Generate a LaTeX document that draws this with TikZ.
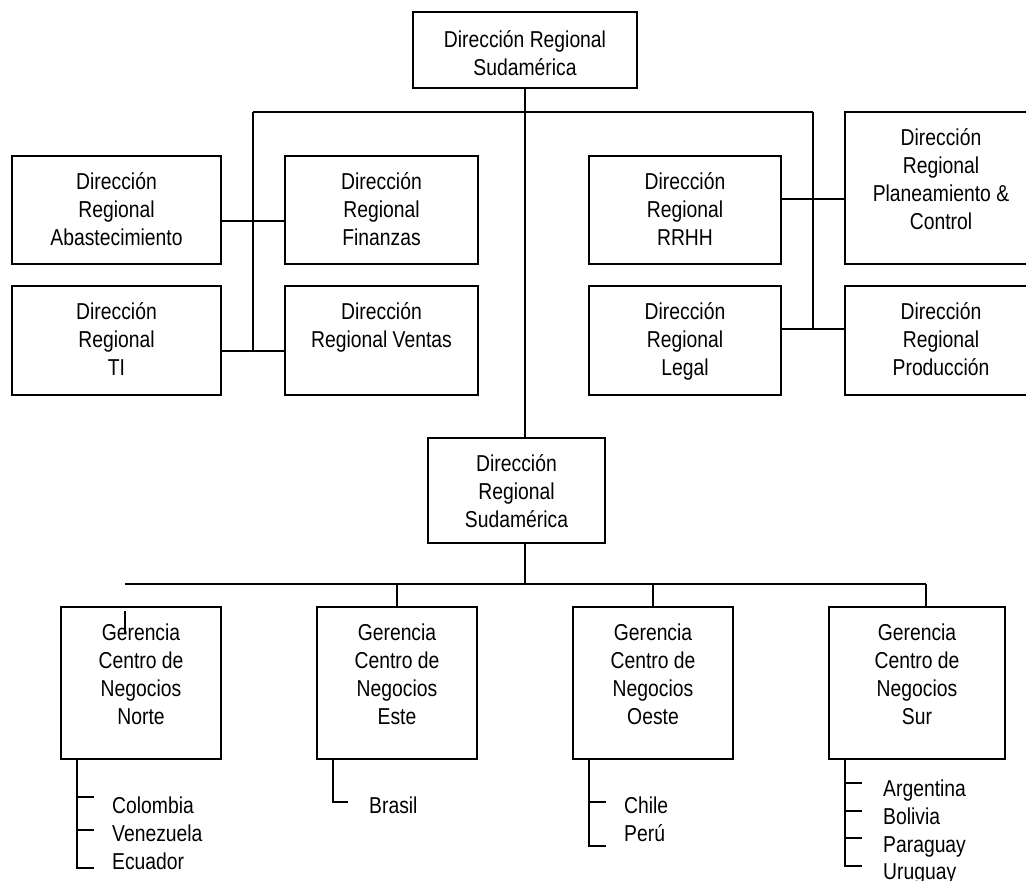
\documentclass[tikz,border=0pt]{standalone}
\usepackage{fontspec}
\setmainfont{Liberation Sans}[FakeStretch=0.84]
\newcommand{\labelfont}{\fontsize{23}{28}\selectfont}
\newcommand{\firstline}{\rule{0pt}{22pt}}
\begin{document}
\begin{tikzpicture}[x=1pt,y=-1pt,
  box/.style={draw=black, line width=1.8pt, rectangle, inner sep=0pt},
  lbl/.style={align=center, anchor=north, inner sep=0pt, font=\labelfont},
  item/.style={anchor=base west, inner sep=0pt, font=\labelfont},
  link/.style={line width=1.8pt}]
\clip (0,0) rectangle (1026,881);
\fill[white] (0,0) rectangle (1026,881);

% --- boxes
\node[box, minimum width=224pt, minimum height=76pt]  (top)    at (525,50) {};
\node[box, minimum width=209pt, minimum height=108pt] (abast)  at (116.5,210) {};
\node[box, minimum width=193pt, minimum height=108pt] (fin)    at (381.5,210) {};
\node[box, minimum width=209pt, minimum height=109pt] (ti)     at (116.5,340.5) {};
\node[box, minimum width=193pt, minimum height=109pt] (ventas) at (381.5,340.5) {};
\node[box, minimum width=192pt, minimum height=108pt] (rrhh)   at (685,210) {};
\node[box, minimum width=192pt, minimum height=109pt] (legal)  at (685,340.5) {};
\node[box, minimum width=192pt, minimum height=152pt] (plan)   at (941,188) {};
\node[box, minimum width=192pt, minimum height=109pt] (prod)   at (941,340.5) {};
\node[box, minimum width=177pt, minimum height=105pt] (mid)    at (516.5,490.5) {};
\node[box, minimum width=160pt, minimum height=152pt] (norte)  at (141,683) {};
\node[box, minimum width=160pt, minimum height=152pt] (este)   at (397,683) {};
\node[box, minimum width=160pt, minimum height=152pt] (oeste)  at (653,683) {};
\node[box, minimum width=176pt, minimum height=152pt] (sur)    at (917,683) {};

% --- box texts
\node[lbl] (topT)    at (525,25)    {\firstline Dirección Regional\\Sudamérica};
\node[lbl] (abastT)  at (116.5,167) {\firstline Dirección\\Regional\\Abastecimiento};
\node[lbl] (finT)    at (381.5,167) {\firstline Dirección\\Regional\\Finanzas};
\node[lbl] (tiT)     at (116.5,297) {\firstline Dirección\\Regional\\TI};
\node[lbl] (ventasT) at (381.5,297) {\firstline Dirección\\Regional Ventas};
\node[lbl] (rrhhT)   at (685,167)   {\firstline Dirección\\Regional\\RRHH};
\node[lbl] (legalT)  at (685,297)   {\firstline Dirección\\Regional\\Legal};
\node[lbl] (planT)   at (941,123)   {\firstline Dirección\\Regional\\Planeamiento \&\\Control};
\node[lbl] (prodT)   at (941,297)   {\firstline Dirección\\Regional\\Producción};
\node[lbl] (midT)    at (516.5,449) {\firstline Dirección\\Regional\\Sudamérica};
\node[lbl] (norteT)  at (141,618)   {\firstline Gerencia\\Centro de\\Negocios\\Norte};
\node[lbl] (esteT)   at (397,618)   {\firstline Gerencia\\Centro de\\Negocios\\Este};
\node[lbl] (oesteT)  at (653,618)   {\firstline Gerencia\\Centro de\\Negocios\\Oeste};
\node[lbl] (surT)    at (917,618)   {\firstline Gerencia\\Centro de\\Negocios\\Sur};

% --- junction points
\coordinate (busTopL) at (253,112);
\coordinate (busTopR) at (813,112);
\coordinate (jL1) at (253,221);
\coordinate (jL2) at (253,351);
\coordinate (jR1) at (813,199);
\coordinate (jR2) at (813,329);
\coordinate (busBot) at (525,584);
\coordinate (busBotL) at (125,584);
\coordinate (busBotR) at (926,584);
\coordinate (tickA) at (125,611);
\coordinate (tickB) at (125,633);
\coordinate (surDrop) at (926,607);

% --- upper connectors
\draw[link] (top.south) -- (top.south |- mid.north);
\draw[link] (busTopL) -- (busTopR);
\draw[link] (busTopL) -- (jL2);
\draw[link] (busTopR) -- (jR2);
\draw[link] (abast.east |- jL1) -- (fin.west |- jL1);
\draw[link] (ti.east |- jL2) -- (ventas.west |- jL2);
\draw[link] (rrhh.east |- jR1) -- (plan.west |- jR1);
\draw[link] (legal.east |- jR2) -- (prod.west |- jR2);

% --- lower connectors
\draw[link] (top.south |- mid.south) -- (busBot);
\draw[link] (busBotL) -- (busBotR);
\draw[link] (tickA) -- (tickB);
\draw[link] (este.north |- busBot) -- (este.north);
\draw[link] (oeste.north |- busBot) -- (oeste.north);
\draw[link] (busBotR) -- (surDrop);

% --- country lists
\coordinate (n1) at (77,797);
\coordinate (n2) at (77,830);
\coordinate (n3) at (77,868);
\draw[link] (n1 |- norte.south) -- (n3) -- ++(17,0);
\draw[link] (n1) -- ++(17,0);
\draw[link] (n2) -- ++(17,0);
\node[item] (colombia)  at (112,813) {Colombia};
\node[item] (venezuela) at (112,841) {Venezuela};
\node[item] (ecuador)   at (112,869) {Ecuador};

\coordinate (e1) at (333,802);
\draw[link] (e1 |- este.south) -- (e1) -- ++(15,0);
\node[item] (brasil) at (369,813) {Brasil};

\coordinate (o1) at (589,802);
\coordinate (o2) at (589,846);
\draw[link] (o1 |- oeste.south) -- (o2) -- ++(17,0);
\draw[link] (o1) -- ++(17,0);
\node[item] (chile) at (624,813) {Chile};
\node[item] (peru)  at (624,841) {Perú};

\coordinate (s1) at (845,783);
\coordinate (s2) at (845,811);
\coordinate (s3) at (845,838);
\coordinate (s4) at (845,866);
\draw[link] (s1 |- sur.south) -- (s4) -- ++(17,0);
\draw[link] (s1) -- ++(17,0);
\draw[link] (s2) -- ++(17,0);
\draw[link] (s3) -- ++(17,0);
\node[item] (argentina) at (883,796) {Argentina};
\node[item] (bolivia)   at (883,824) {Bolivia};
\node[item] (paraguay)  at (883,852) {Paraguay};
\node[item] (uruguay)   at (883,879) {Uruguay};
\end{tikzpicture}
\end{document}
